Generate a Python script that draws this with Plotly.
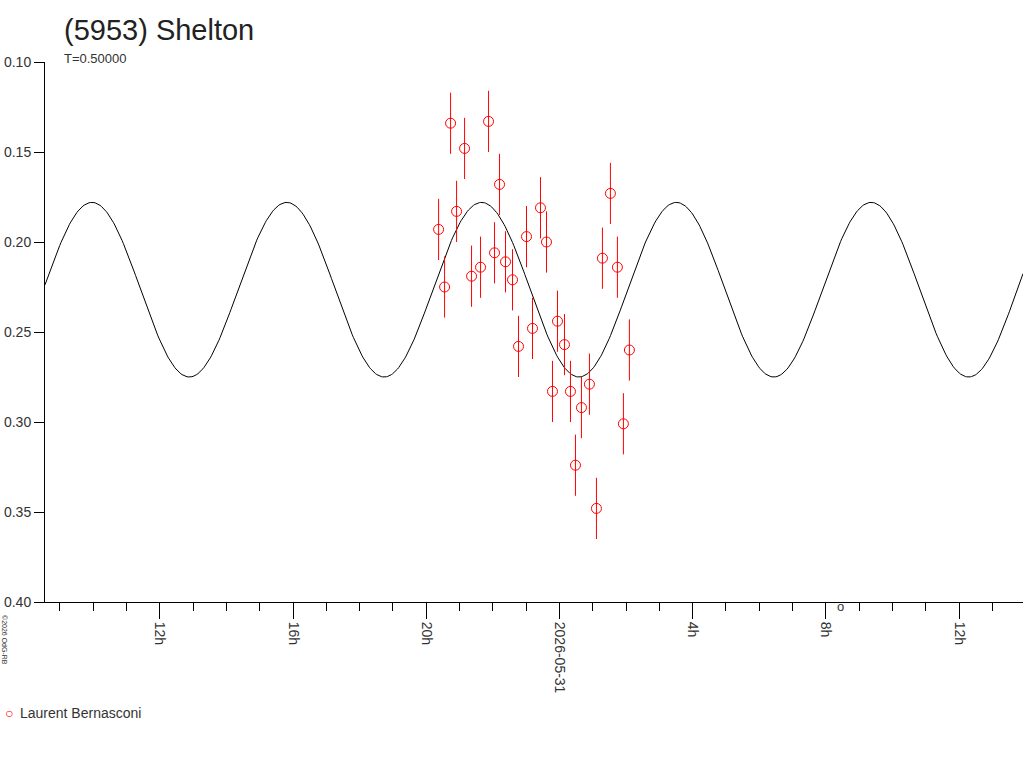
import numpy as np
import plotly.graph_objects as go

# hours since 2026-05-30 00:00
obs_hours = [20.37, 20.55, 20.73, 20.91, 21.15, 21.36, 21.63, 21.87, 22.05, 22.20,
             22.38, 22.59, 22.77, 23.01, 23.19, 23.43, 23.61, 23.79, 23.94, 24.15,
             24.33, 24.48, 24.66, 24.90, 25.11, 25.29, 25.53, 25.74, 25.92, 26.10]
obs_mag = [0.193, 0.225, 0.134, 0.183, 0.148, 0.219, 0.214, 0.133, 0.206, 0.168,
           0.211, 0.221, 0.258, 0.197, 0.248, 0.181, 0.200, 0.283, 0.244, 0.257,
           0.283, 0.324, 0.292, 0.279, 0.348, 0.209, 0.173, 0.214, 0.301, 0.260]
obs_err = [0.017] * len(obs_mag)

tick_vals = [12, 16, 20, 24, 28, 32, 36]
tick_text = ["12h", "16h", "20h", "2026-05-31", "4h", "8h", "12h"]
y_ticks = [0.10, 0.15, 0.20, 0.25, 0.30, 0.35, 0.40]

# fitted model parameters
model_mean = 0.2265
model_amp = 0.0485
model_period_h = 5.85
model_peak_h = 21.66

x0, x1 = 8.55, 37.92
xs = np.linspace(x0, x1, 800)
ys = model_mean - model_amp * np.cos(2 * np.pi * (xs - model_peak_h) / model_period_h)

font = "Liberation Sans, Arial, sans-serif"
fig = go.Figure()
fig.add_trace(go.Scatter(x=xs, y=ys, mode="lines", line=dict(color="black", width=1),
                         showlegend=False, hoverinfo="skip"))
fig.add_trace(go.Scatter(
    x=obs_hours, y=obs_mag, mode="markers", name="Laurent Bernasconi", showlegend=False,
    marker=dict(symbol="circle-open", size=10, color="red", line=dict(width=1)),
    error_y=dict(type="data", array=obs_err, color="red", thickness=1, width=0)))

fig.update_layout(
    width=1024, height=768, paper_bgcolor="white", plot_bgcolor="white",
    margin=dict(l=45, r=1, t=62, b=166),
    font=dict(family=font, size=14, color="#333"),
    showlegend=False,
    xaxis=dict(range=[x0, x1], tickvals=tick_vals, ticktext=tick_text, tickangle=90,
               ticks="outside", ticklen=16, tickcolor="black", showgrid=False, zeroline=False,
               showline=True, linecolor="black", linewidth=1, automargin=False,
               minor=dict(dtick=1, tick0=0, ticks="outside", ticklen=8, tickcolor="black"),
               tickfont=dict(size=14, color="#333")),
    yaxis=dict(range=[0.40, 0.10], tickvals=y_ticks, tickformat=".2f",
               ticks="outside", ticklen=10, tickcolor="black", showgrid=False, zeroline=False,
               showline=True, linecolor="black", linewidth=1, automargin=False,
               tickfont=dict(size=14, color="#333")),
)
def ann(text, x, y, size, color="#333", anchor="left", angle=0):
    fig.add_annotation(text=text, xref="paper", yref="paper",
                       x=(x - 45) / 978, y=(602 - y) / 540, xanchor=anchor, yanchor="middle",
                       textangle=angle, showarrow=False, font=dict(size=size, color=color))

ann("(5953) Shelton", 62, 30, 29, "#222")
ann("T=0.50000", 62, 58, 13)
ann("o", 840, 606, 13, anchor="center")
ann("©2026 OdG-RB", 5, 640, 7, anchor="center", angle=90)
ann("○", 3, 713, 14, "red")
ann("Laurent Bernasconi", 18, 713, 14)
fig.write_html("out.html", config={"displayModeBar": False},
               post_script="document.body.style.margin='0';document.body.style.overflow='hidden';")
